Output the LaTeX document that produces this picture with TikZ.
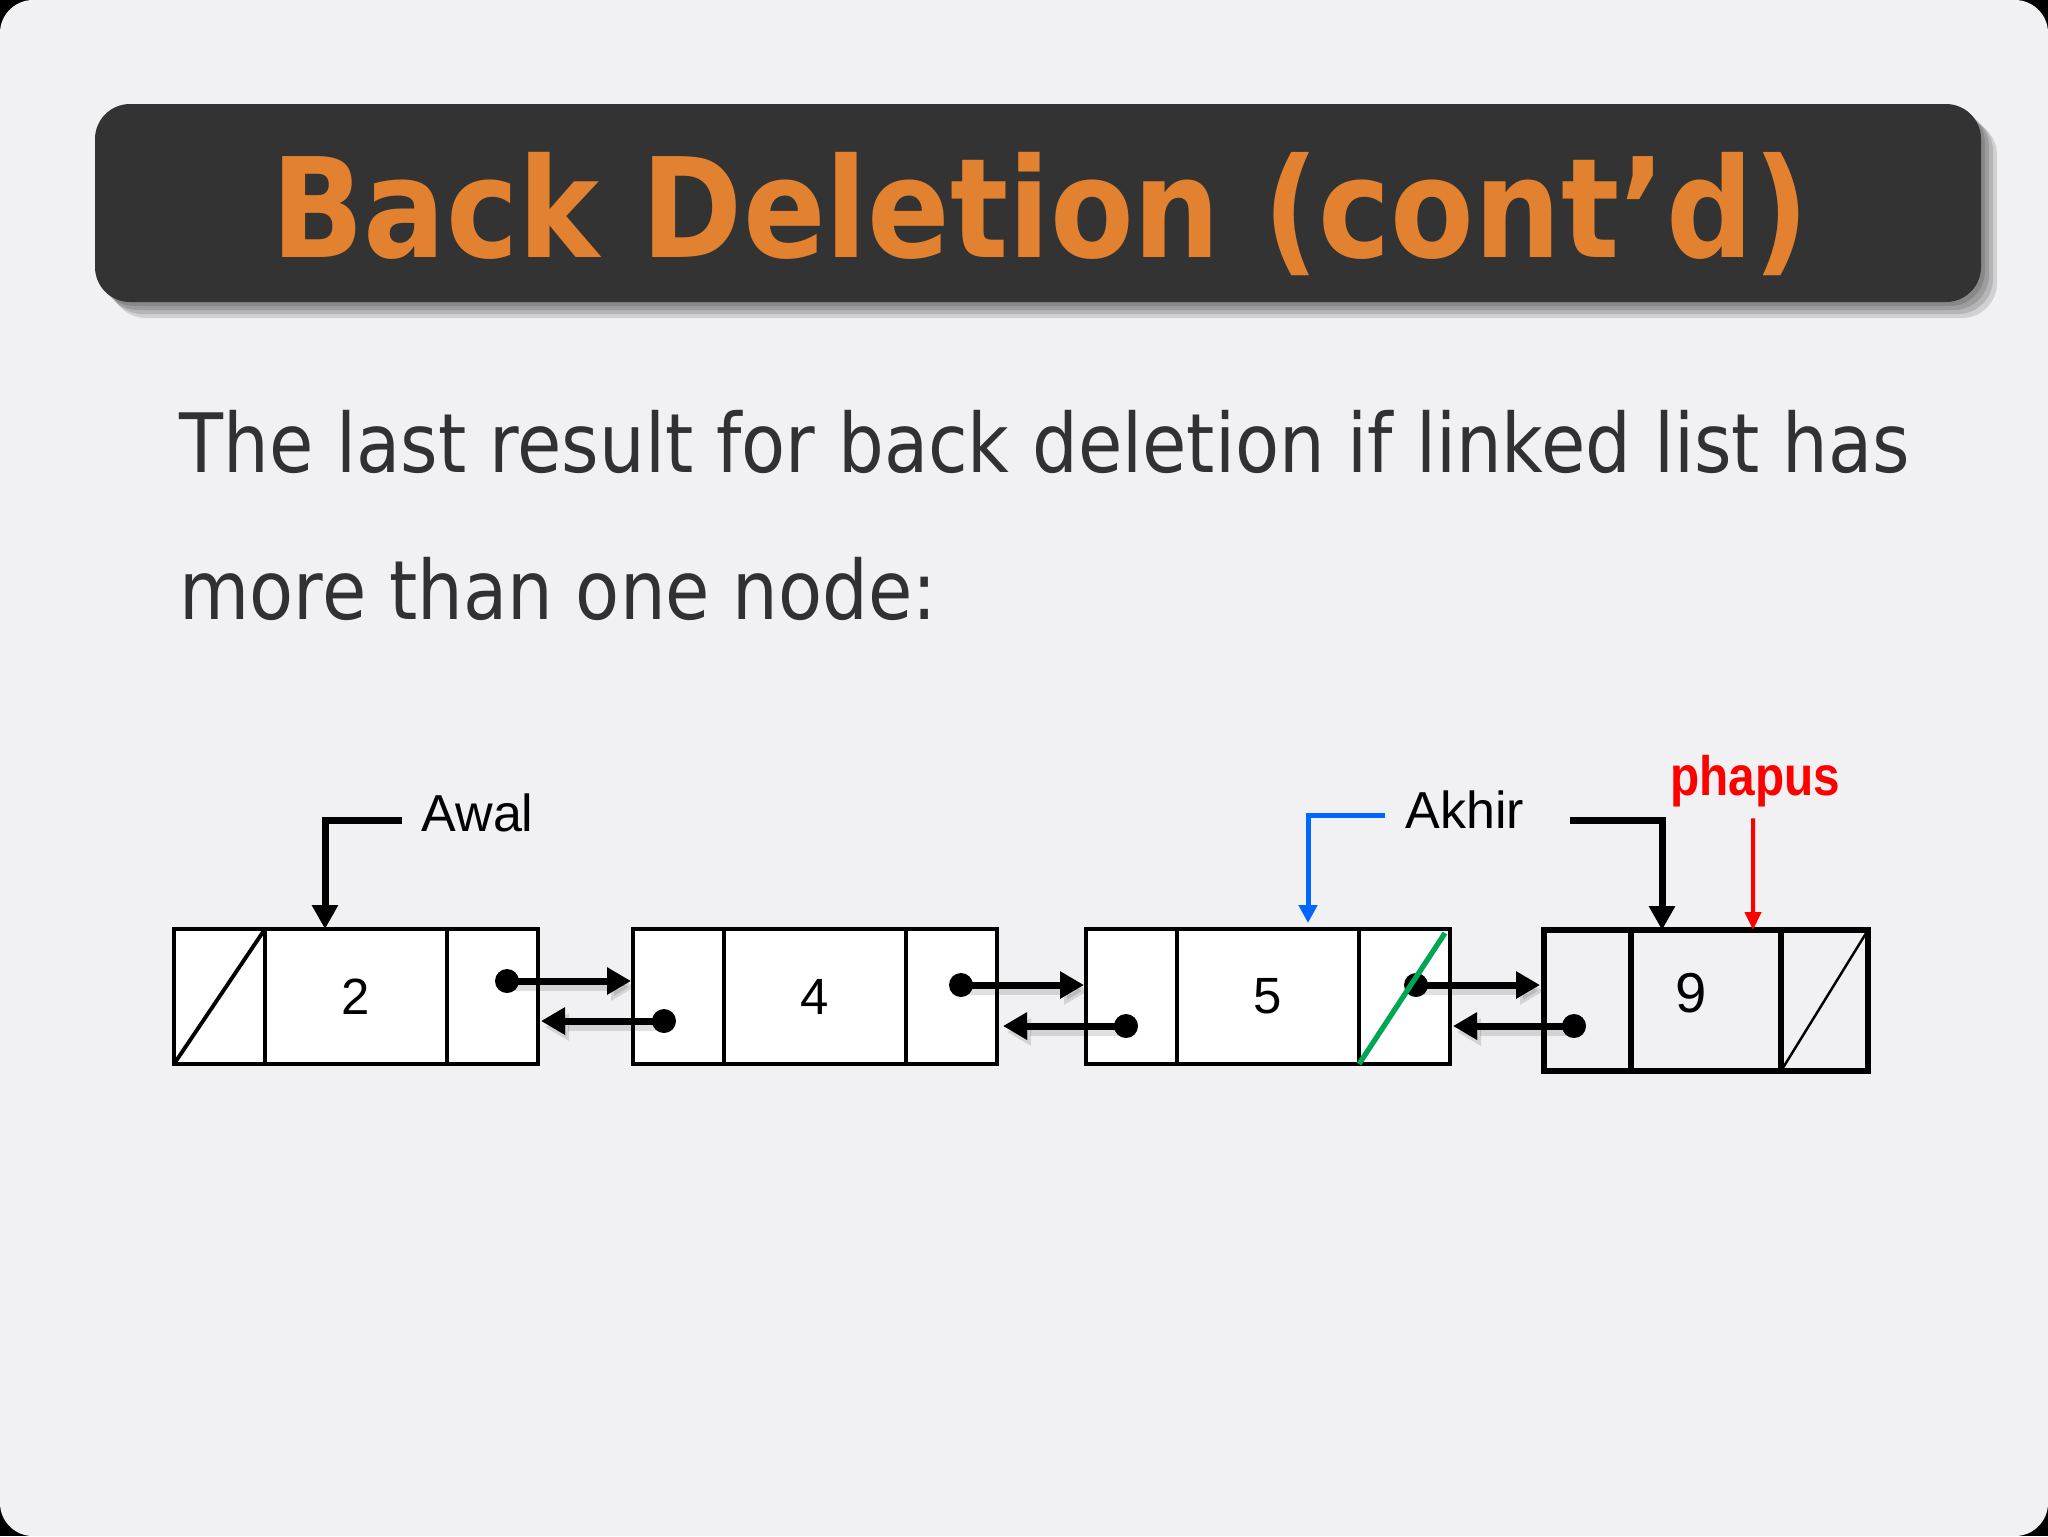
\documentclass[tikz,border=0pt]{standalone}
\usepackage{fontspec}
\usetikzlibrary{positioning,arrows.meta}
\newfontfamily\tahoma[FakeStretch=0.88]{DejaVu Sans}
\newfontfamily\arial{Liberation Sans}
\newfontfamily\arialnarrow[FakeStretch=0.86]{Liberation Sans}
\definecolor{slidebg}{HTML}{F1F0F2}
\definecolor{barbg}{HTML}{333333}
\definecolor{titleorange}{HTML}{E2812F}
\definecolor{bodytext}{HTML}{313032}
\definecolor{akhirblue}{HTML}{0066FF}
\definecolor{delgreen}{HTML}{00A651}
\tikzset{
  listcell/.style={draw=black, fill=white, line width=1.1pt, minimum height=13.5mm,
    inner sep=0pt, outer sep=0pt, font=\arial\fontsize{14.5pt}{17pt}\selectfont},
  lastcell/.style={listcell, fill=none, line width=1.5pt, minimum height=14.1mm,
    font=\arial\fontsize{16pt}{19pt}\selectfont},
  ptrdot/.style={circle, fill=black, inner sep=0pt, minimum size=2.4mm},
  ptr/.style={line width=0.7mm, -{Triangle[length=2.4mm,width=2.6mm]}},
  ptrshadow/.style={ptr, black, opacity=0.12, transform canvas={shift={(0.4mm,-0.6mm)}}},
  elbow/.style={line width=0.7mm, -{Triangle[length=2.4mm,width=2.5mm]}},
  lbl/.style={inner sep=0pt, font=\arial\fontsize{14.8pt}{18pt}\selectfont}
}
\begin{document}
\begin{tikzpicture}[x=0.1mm, y=-0.1mm]
    \useasboundingbox (0, 0) rectangle (2048, 1536);
    % slide
    \fill [black] (0, 0) rectangle (2048, 1536);
    \fill [slidebg, rounded corners=3.3mm] (0, 0) rectangle (2048, 1536);
    %
    \foreach \s in {4, 8, 12, 16}
      \fill [black, opacity=0.13, rounded corners=3.5mm] (95+\s, 104+\s) rectangle (1981+\s, 302+\s);
    \fill [barbg, rounded corners=3.5mm] (95, 104) rectangle (1981, 302);
    \node [anchor=base, inner sep=0pt, text=titleorange,
      font=\tahoma\bfseries\fontsize{39.4pt}{47pt}\selectfont] (title) at (1040, 257) {Back Deletion (cont’d)};
    %
    \node [anchor=base west, inner sep=0pt, text=bodytext,
      font=\tahoma\fontsize{23.3pt}{28pt}\selectfont] (line1) at (179, 472) {The last result for back deletion if linked list has};
    \node [anchor=base west, inner sep=0pt, text=bodytext,
      font=\tahoma\fontsize{23.3pt}{28pt}\selectfont] (line2) at (179, 619) {more than one node:};
    %
    % list nodes
    \node [listcell, minimum width=9.1mm, anchor=north west] (p1) at (174, 929) {};
    \node [listcell, minimum width=18.2mm, right=0pt of p1] (d1) {2};
    \node [listcell, minimum width=9.1mm, right=0pt of d1] (n1) {};
    %
    \node [listcell, minimum width=9.1mm, anchor=north west] (p2) at (633, 929) {};
    \node [listcell, minimum width=18.2mm, right=0pt of p2] (d2) {4};
    \node [listcell, minimum width=9.1mm, right=0pt of d2] (n2) {};
    %
    \node [listcell, minimum width=9.1mm, anchor=north west] (p3) at (1086, 929) {};
    \node [listcell, minimum width=18.2mm, right=0pt of p3] (d3) {5};
    \node [listcell, minimum width=9.1mm, right=0pt of d3] (n3) {};
    %
    \node [lastcell, minimum width=8.7mm, anchor=north west] (p4) at (1544, 930) {};
    \node [lastcell, minimum width=15mm, right=0pt of p4] (d4) {};
    \node [lastcell, minimum width=8.7mm, right=0pt of d4] (n4) {};
    \node [inner sep=0pt, font=\arial\fontsize{16pt}{19pt}\selectfont] (v4) at (1691, 993) {9};
    %
    \draw [line width=1.1pt] (p1.south west) -- (p1.north east);
    \draw [line width=0.7pt] (n4.south west) -- (n4.north east);
    %
    % pointers
    \node [ptrdot] (f1) at (507, 981) {};
    \node [ptrdot] (b2) at (664, 1021) {};
    \node [ptrdot] (f2) at (961, 985) {};
    \node [ptrdot] (b3) at (1126, 1026) {};
    \node [ptrdot] (f3) at (1416, 985) {};
    \node [ptrdot] (b4) at (1574, 1026) {};
    \foreach \st in {ptrshadow, ptr} {
      \draw [\st] (f1.center) -- ([xshift=-0.2mm]p2.west |- f1);
      \draw [\st] (b2.center) -- ([xshift=0.3mm]n1.east |- b2);
      \draw [\st] (f2.center) -- ([xshift=-0.2mm]p3.west |- f2);
      \draw [\st] (b3.center) -- ([xshift=0.6mm]n2.east |- b3);
      \draw [\st] (f3.center) -- ([xshift=-0.4mm]p4.west |- f3);
      \draw [\st] (b4.center) -- ([xshift=0.3mm]n3.east |- b4);
    }
    %
    \draw [delgreen, line width=1.5pt] (n3.south west) -- ([xshift=-0.5mm, yshift=-0.4mm]n3.north east);
    %
    % labels
    \node [lbl, anchor=base west] (awal) at (421, 831) {Awal};
    \coordinate (awalfrom) at (402, 820);
    \draw [elbow] (awalfrom) -| ([xshift=6mm]d1.north west);
    %
    \node [lbl, anchor=base west] (akhir) at (1405, 828) {Akhir};
    \coordinate (akhirfrom) at (1385, 815);
    \draw [akhirblue, line width=0.5mm, -{Triangle[length=1.8mm,width=1.8mm]}, shorten >=0.6mm]
      (akhirfrom) -| ([xshift=13.1mm]d3.north west);
    %
    \coordinate (oldakhir) at (1570, 820);
    \draw [elbow] (oldakhir) -| ([xshift=3.1mm]d4.north west);
    %
    \node [anchor=base, inner sep=0pt, text=red,
      font=\arialnarrow\bfseries\fontsize{15.8pt}{18pt}\selectfont] (phapus) at (1755, 795) {phapus};
    \draw [red, line width=0.4mm, -{Triangle[length=1.8mm,width=1.6mm]}]
      ([xshift=-0.2mm, yshift=-1.1mm]phapus.south) -- ([xshift=12.2mm]d4.north west);
\end{tikzpicture}
\end{document}
